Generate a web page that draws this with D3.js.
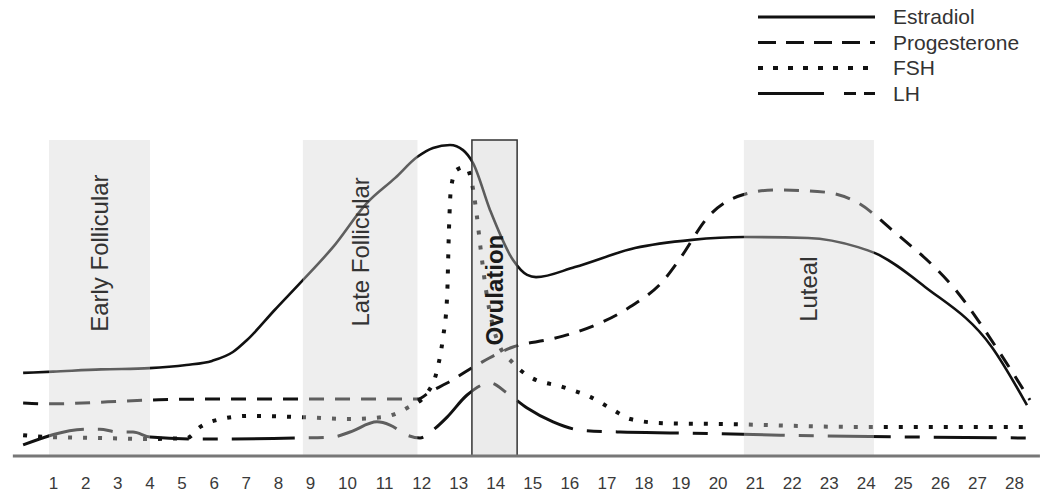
<!DOCTYPE html>
<html>
<head>
<meta charset="utf-8">
<script src="https://cdn.jsdelivr.net/npm/d3@7/dist/d3.min.js"></script>
<style>
  body { margin: 0; background: #fff; }
  svg { display: block; font-family: "Liberation Sans", Arial, sans-serif; }
</style>
</head>
<body>
<div id="chart"></div>
<script>
// cycle days shown under the axis
const days = [1, 2, 3, 4, 5, 6, 7, 8, 9, 10, 11, 12, 13, 14, 15, 16, 17, 18, 19, 20, 21, 22, 23, 24, 25, 26, 27, 28];

// hormone levels, [day, relative level 0-100]
const estradiol = [
  [0.07, 26.3], [1, 26.7], [2.5, 27.4], [4, 27.8], [5.15, 28.8], [5.95, 30.1], [6.6, 32.9],
  [7.04, 36.7], [7.9, 46.2], [8.69, 54.7], [9.62, 66.1], [10.54, 80.1], [11.3, 88], [11.89, 94.6],
  [12.32, 97.5], [12.78, 98.4], [13.13, 96.8], [13.4, 92.7], [13.86, 77.8], [14.48, 62.0],
  [14.86, 57.3], [15.1, 56.6], [16.15, 59.8], [17.77, 65.8], [19.31, 68.4], [20.71, 69.3],
  [22.44, 69.0], [23.79, 66.1], [24.25, 64.2], [25.6, 53.5], [27.4, 34.5], [28.35, 16.1]
];
const progesterone = [
  [0.07, 16.8], [0.9, 16.5], [4, 17.7], [5.6, 18.0], [8.7, 18.0], [11.9, 18.0], [12.24, 20.3],
  [12.7, 23.1], [13.59, 29.4], [14.48, 34.5], [15.5, 37.0], [16.29, 39.6], [17.64, 47.2],
  [18.53, 55.4], [19.0, 62.7], [19.74, 75.6], [20.66, 82.6], [21.55, 84.2], [22.9, 83.5],
  [23.79, 80.1], [24.71, 71.5], [26.49, 51.6], [27.57, 33.5], [28.43, 17.7]
];
const fsh = [
  [0.07, 6.6], [0.9, 6.0], [2.46, 5.7], [4, 5.4], [5.17, 5.7], [5.58, 9.2], [6.1, 11.4],
  [7.13, 12.7], [8.69, 12.3], [10.08, 11.7], [10.97, 12.3], [11.62, 15.2], [12.16, 19.9],
  [12.43, 27.2], [12.58, 36.7], [12.7, 50.3], [12.75, 71.5], [12.8, 84.2], [12.95, 90.5],
  [13.19, 91.5], [13.38, 85.8], [13.5, 76.3], [13.6, 66.1], [13.78, 50.3], [14.05, 36.7],
  [14.48, 29.4], [14.94, 25.0], [15.83, 21.8], [16.56, 18.7], [17.18, 14.6], [17.64, 11.7],
  [18.53, 10.4], [20.2, 10.1], [23.8, 9.2], [28.43, 9.2]
];
const lh = [
  [0.07, 3.5], [2.06, 8.5], [2.46, 8.5], [2.99, 7.6], [3.49, 7.6], [4.02, 6.0], [5.36, 5.4],
  [6.6, 5.4], [8.69, 5.7], [9.62, 6.0], [10.08, 7.6], [10.81, 10.8], [11.16, 9.8], [11.62, 6.6],
  [11.97, 5.7], [12.32, 8.2], [12.7, 12.3], [13.24, 19.3], [13.86, 23.1], [14.32, 19.9],
  [14.86, 15.2], [15.56, 10.8], [16.29, 8.2], [17.37, 7.6], [18.99, 7.3], [21.69, 6.6], [28.38, 5.7]
];

// phases of the cycle, in days
const phaseNames = ["Early Follicular", "Late Follicular", "Ovulation", "Luteal"];
const phaseStart = [0.875, 8.78, 13.37, 20.71];
const phaseEnd = [4.02, 11.9, 14.59, 24.22];

const seriesNames = ["Estradiol", "Progesterone", "FSH", "LH"];

// ---- layout ----
const W = 1050, H = 504;
const x = d3.scaleLinear().domain([1, 9, 28]).range([53, 310, 1014]);
const y = d3.scaleLinear().domain([0, 100]).range([456, 140]);

const styles = [
  { dash: null, width: 2.6 },
  { dash: "15,11", width: 3 },
  { dash: "4,11", width: 4 },
  { dash: "63,14,15,14", width: 3 }
];
const legendDash = [null, "18,10", "5,10", "66,20,12,8,11"];
const labelLevel = [64.2, 64.6, 52.5, 52.8];

const svg = d3.select("#chart").append("svg")
  .attr("width", W)
  .attr("height", H);

const line = d3.line()
  .x(d => x(d[0]))
  .y(d => y(d[1]))
  .curve(d3.curveMonotoneX);

const allSeries = [estradiol, progesterone, fsh, lh];

svg.append("g").selectAll("path")
  .data(allSeries)
  .enter().append("path")
  .attr("d", line)
  .attr("fill", "none")
  .attr("stroke", "#111")
  .attr("stroke-width", (d, i) => styles[i].width)
  .attr("stroke-dasharray", (d, i) => styles[i].dash);

// shaded phases sit over the curves, so the lines show greyed inside them
const phases = svg.append("g");
phaseNames.forEach((name, i) => {
  const isOv = name === "Ovulation";
  phases.append("rect")
    .attr("x", x(phaseStart[i]))
    .attr("y", y(100))
    .attr("width", x(phaseEnd[i]) - x(phaseStart[i]))
    .attr("height", y(0) - y(100))
    .attr("fill", isOv ? "#cccccc" : "#d4d4d4")
    .attr("fill-opacity", 0.4)
    .attr("stroke", isOv ? "#333" : "none")
    .attr("stroke-width", 1.5);

  const cx = (x(phaseStart[i]) + x(phaseEnd[i])) / 2;
  const cy = y(labelLevel[i]);
  phases.append("text")
    .attr("transform", `translate(${cx},${cy}) rotate(-90)`)
    .attr("text-anchor", "middle")
    .attr("dy", "0.35em")
    .attr("font-size", 24)
    .attr("font-weight", isOv ? "bold" : "normal")
    .attr("fill", isOv ? "#1a1a1a" : "#333")
    .text(name);
});

// axis
svg.append("line")
  .attr("x1", x(-0.25))
  .attr("x2", x(28.7))
  .attr("y1", y(0))
  .attr("y2", y(0))
  .attr("stroke", "#777")
  .attr("stroke-width", 3);

const xAxis = d3.axisBottom(x).tickValues(days).tickSize(0).tickPadding(21);
const gx = svg.append("g")
  .attr("transform", `translate(0,${y(0)})`)
  .call(xAxis);
gx.select(".domain").remove();
gx.selectAll("text")
  .attr("font-size", 17)
  .attr("font-family", "'Liberation Sans', Arial, sans-serif")
  .attr("fill", "#3a3a3a");

// legend
const legend = svg.append("g").attr("transform", "translate(758,17)");
seriesNames.forEach((name, i) => {
  const row = legend.append("g").attr("transform", `translate(0,${i * 25.5})`);
  row.append("line")
    .attr("x1", 0)
    .attr("x2", 117)
    .attr("stroke", "#111")
    .attr("stroke-width", i === 2 ? 4 : 3)
    .attr("stroke-dasharray", legendDash[i]);
  row.append("text")
    .attr("x", 135)
    .attr("dy", "0.35em")
    .attr("font-size", 21)
    .attr("fill", "#333")
    .text(name);
});
</script>
</body>
</html>
